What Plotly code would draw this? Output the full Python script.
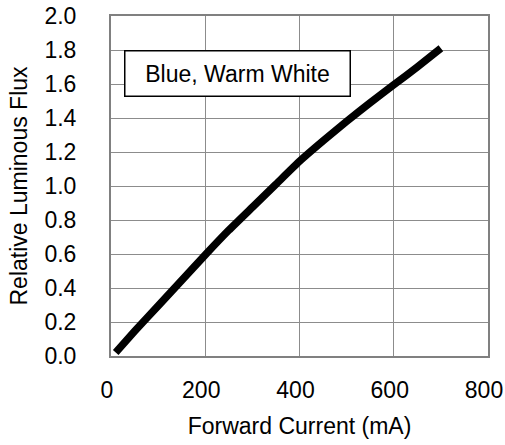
import plotly.graph_objects as go

current_ma = [10, 50, 100, 150, 200, 250, 300, 350, 400, 450, 500, 550, 600, 650, 700]
rel_flux = [0.02, 0.145, 0.295, 0.445, 0.595, 0.74, 0.875, 1.01, 1.145, 1.265, 1.38, 1.49, 1.595, 1.70, 1.81]

x_ticks = [0, 200, 400, 600, 800]
y_ticks = [0.0, 0.2, 0.4, 0.6, 0.8, 1.0, 1.2, 1.4, 1.6, 1.8, 2.0]
label_text = "Blue, Warm White"

FONT = "Liberation Sans, Arial, sans-serif"
FS = 23

fig = go.Figure()
fig.add_trace(go.Scatter(
    x=current_ma, y=rel_flux, mode="lines",
    line=dict(color="black", width=7.5, shape="spline", smoothing=0.4),
    showlegend=False, hoverinfo="skip", cliponaxis=False,
))

fig.add_annotation(
    xref="paper", yref="paper", x=0.335, y=0.9,
    text=label_text, showarrow=False,
    font=dict(family=FONT, size=FS, color="black"),
    bgcolor="white", bordercolor="black", borderwidth=1.5, borderpad=1,
    width=222, height=42, align="center", valign="middle",
)

fig.update_layout(
    width=505, height=445,
    margin=dict(l=111, r=17, t=16, b=89, autoexpand=False),
    paper_bgcolor="white", plot_bgcolor="white",
    font=dict(family=FONT, size=FS, color="black"),
    xaxis=dict(
        range=[0, 800], tickvals=x_ticks, ticktext=[str(v) for v in x_ticks],
        showgrid=True, gridcolor="#8c8c8c", gridwidth=1,
        showline=True, linecolor="#808080", linewidth=2, mirror=True,
        zeroline=False, ticks="", ticklabelstandoff=12, automargin=False,
        ticklabeloverflow="allow", ticklabelshift=-4,
        title=dict(text="Forward Current (mA)", standoff=16,
                   font=dict(size=FS)),
    ),
    yaxis=dict(
        range=[0, 2.0], tickvals=y_ticks, ticktext=[f"{v:.1f}" for v in y_ticks],
        showgrid=True, gridcolor="#8c8c8c", gridwidth=1,
        showline=True, linecolor="#808080", linewidth=2, mirror=True,
        zeroline=False, ticks="", ticklabelstandoff=28, automargin=False,
        ticklabeloverflow="allow",
        title=dict(text="Relative Luminous Flux", standoff=10,
                   font=dict(size=FS)),
    ),
)

fig.write_html("out.html")
